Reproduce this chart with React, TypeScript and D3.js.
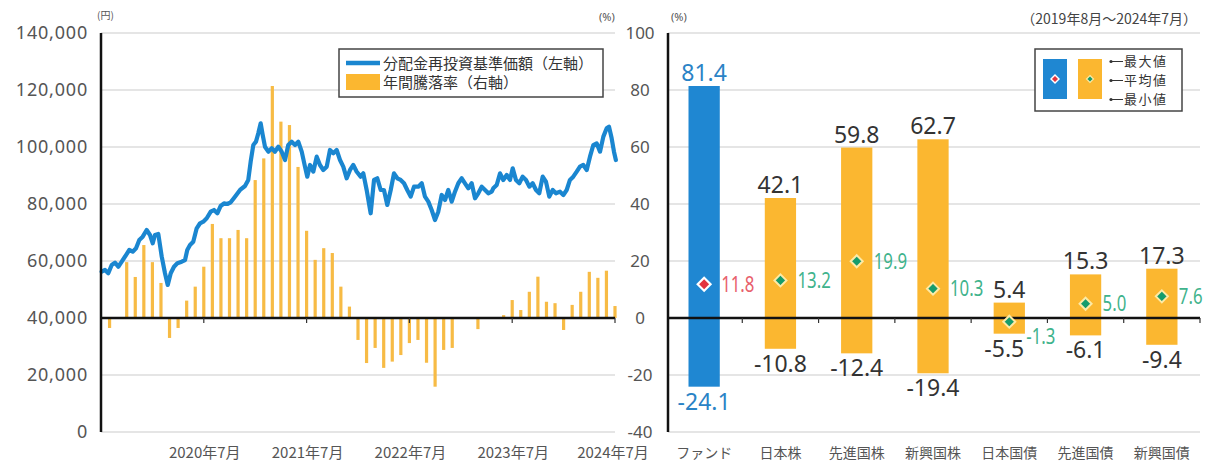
import React from "react";
import * as d3 from "d3";

// ---------- Left chart data ----------
// months elapsed since end of July 2019, NAV (円)
const navSeries: [number, number][] = [
  [0.08, 56250], [0.47, 56850], [0.85, 55700], [1.25, 58600], [1.63, 59400], [2.02, 58000],
  [2.42, 59760], [2.92, 62100], [3.3, 63860], [3.7, 63270], [4.09, 64440], [4.47, 67370],
  [4.87, 68540], [5.33, 70880], [5.72, 69130], [6.04, 66200], [6.3, 69130], [6.69, 69480],
  [7.09, 61520], [7.47, 55700], [7.79, 51600], [8.14, 55700], [8.52, 58000], [8.91, 59200],
  [9.42, 59760], [9.81, 60350], [10.07, 63860], [10.39, 65620], [10.77, 66780], [11.17, 71470],
  [11.56, 73240], [11.94, 73800], [12.34, 74990], [12.81, 77300], [13.19, 77900], [13.58, 76740],
  [13.97, 79300], [14.36, 80250], [14.74, 80000], [15.14, 80600], [15.64, 82580], [16.23, 84920],
  [16.81, 86320], [17.19, 88430], [17.47, 94850], [17.78, 100700], [18.09, 101870], [18.36, 104800],
  [18.64, 108320], [18.88, 104200], [19.14, 100100], [19.53, 98360], [19.93, 99540], [20.31, 98360],
  [20.7, 100100], [21.09, 98360], [21.48, 95440], [21.86, 100700], [22.26, 101870], [22.65, 100700],
  [23.03, 101870], [23.43, 98360], [23.81, 93100], [24.08, 89590], [24.4, 93690], [24.78, 91340],
  [25.18, 96610], [25.56, 93690], [25.95, 91940], [26.35, 93100], [26.73, 98950], [27.12, 97780],
  [27.51, 98950], [27.9, 95440], [28.28, 93100], [28.68, 89020], [29.07, 91940], [29.45, 93690],
  [29.85, 91340], [30.31, 89590], [30.62, 90760], [31.01, 84920], [31.48, 76740], [31.87, 88430],
  [32.25, 89020], [32.65, 84920], [33.03, 84920], [33.42, 79660], [33.82, 84920], [34.2, 90760],
  [34.59, 89020], [34.98, 88430], [35.37, 87270], [35.75, 84920], [36.15, 82580], [36.54, 86080],
  [37.04, 86080], [37.44, 87270], [37.82, 82580], [38.21, 80830], [38.6, 77900], [38.99, 74390],
  [39.37, 77310], [39.77, 83170], [40.16, 81410], [40.54, 84920], [40.94, 80830], [41.32, 84330],
  [41.71, 87270], [42.11, 89020], [42.49, 87270], [42.88, 85500], [43.27, 87270], [43.66, 82000],
  [44.04, 83760], [44.44, 86080], [44.83, 84920], [45.21, 83760], [45.61, 84330], [45.79, 85500],
  [46.19, 86670], [46.58, 90760], [46.96, 88430], [47.36, 90180], [47.74, 88430], [48.06, 92520],
  [48.44, 88430], [48.83, 87270], [49.22, 89590], [49.61, 88430], [50.0, 86080], [50.39, 87270],
  [50.78, 84920], [51.16, 83760], [51.56, 89590], [51.94, 87850], [52.33, 82580], [52.73, 84920],
  [53.11, 83760], [53.58, 84330], [53.97, 83170], [54.36, 84920], [54.74, 88430], [55.13, 89590],
  [55.53, 91340], [55.91, 93100], [56.3, 93690], [56.7, 91940], [57.08, 96610], [57.47, 100700],
  [57.86, 101290], [58.25, 98360], [58.64, 103630], [59.03, 106560], [59.3, 107140], [59.61, 103050],
  [59.88, 98360], [60.1, 95440],
];

// monthly annual return (%), 2019-08 .. 2024-07
const annualReturn: number[] = [
  -3.5, 0, 19.6, 14.4, 25.6, 19.6, 12.3, -7.0, -3.5, 6.1, 11.0, 18.0,
  33.0, 28.0, 28.0, 30.9, 28.0, 48.4, 56.0, 81.4, 68.9, 67.7, 53.0, 30.6,
  20.4, 24.5, 22.8, 11.0, 4.0, -7.7, -15.8, -10.5, -17.5, -15.3, -13.0, -8.8,
  -7.7, -15.7, -24.1, -11.2, -10.5, 0, 0, -3.9, 0, 0, 1.0, 6.3,
  2.8, 9.2, 14.5, 5.7, 5.2, -4.2, 4.6, 9.2, 16.2, 14.1, 16.6, 4.2,
];

const leftTicks = [0, 20000, 40000, 60000, 80000, 100000, 120000, 140000];
const pctTicks = [-40, -20, 0, 20, 40, 60, 80, 100];
const xTickMonths = [12, 24, 36, 48, 60];
const xTickLabels = ["2020年7月", "2021年7月", "2022年7月", "2023年7月", "2024年7月"];

// ---------- Right chart data ----------
const categories = ["ファンド", "日本株", "先進国株", "新興国株", "日本国債", "先進国債", "新興国債"];
const maxVals = [81.4, 42.1, 59.8, 62.7, 5.4, 15.3, 17.3];
const avgVals = [11.8, 13.2, 19.9, 10.3, -1.3, 5.0, 7.6];
const minVals = [-24.1, -10.8, -12.4, -19.4, -5.5, -6.1, -9.4];
const legendItems = ["最大値", "平均値", "最小値"];

const BLUE = "#1f87d2";
const ORANGE = "#fbb730";
const BAR_LEFT = "#f7bb45";
const GRID = "#dcdcdc";
const TXT = "#555";
const NUM = "Noto Sans, sans-serif";
const JP = "'Noto Sans CJK JP', sans-serif";

function fmt(v: number) {
  return v.toFixed(1);
}

function Diamond({ cx, cy, r, fill, stroke, sw }: any) {
  const p = `M${cx},${cy - r}L${cx + r},${cy}L${cx},${cy + r}L${cx - r},${cy}Z`;
  return <path d={p} fill={fill} stroke={stroke} strokeWidth={sw} strokeLinejoin="miter" />;
}

export default function App() {
  const W = 1206, H = 464;
  const top = 33, bottom = 432;
  const yL = d3.scaleLinear().domain([0, 140000]).range([bottom, top]);
  const yP = d3.scaleLinear().domain([-40, 100]).range([bottom, top]);
  const xM = d3.scaleLinear().domain([0, 60]).range([101, 615]);
  const xC = d3.scaleBand<string>().domain(categories).range([666, 1200]);
  const bw = xC.bandwidth();
  const barW = bw * 0.41;

  const line = d3.line<[number, number]>()
    .x((d) => xM(d[0]))
    .y((d) => yL(d[1]))
    .curve(d3.curveLinear);

  const zeroY = yP(0);
  const fmtK = d3.format(",");

  return (
    <div style={{ position: "absolute", left: 0, top: 0 }}>
      <svg width={W} height={H} style={{ display: "block", background: "#fff" }}>
        {/* ---------- LEFT CHART ---------- */}
        {leftTicks.map((t) => (
          <line key={"lg" + t} x1={xM(0)} x2={xM(60)} y1={yL(t)} y2={yL(t)} stroke={GRID} strokeWidth={1.5} />
        ))}
        {leftTicks.map((t) => (
          <text key={"lt" + t} x={88} y={yL(t)} dy="0.36em" textAnchor="end" fontFamily={NUM} fontSize={18}
            letterSpacing={0.8} fill={TXT}>{fmtK(t)}</text>
        ))}
        <text x={97} y={19} fontFamily={JP} fontSize={10} fill={TXT}>(円)</text>
        <text x={599} y={21} fontFamily={NUM} fontSize={11} fill={TXT}>(%)</text>

        {/* bars */}
        {annualReturn.map((v, i) => (
          <rect key={"b" + i} x={xM(i + 1) - 1.6} width={3.2}
            y={Math.min(yP(v), zeroY)} height={Math.abs(yP(v) - zeroY)} fill={BAR_LEFT} />
        ))}
        {/* zero line */}
        <line x1={xM(0)} x2={xM(60)} y1={zeroY} y2={zeroY} stroke="#111" strokeWidth={2.5} />
        {xTickMonths.map((m) => (
          <line key={"xt" + m} x1={xM(m)} x2={xM(m)} y1={zeroY} y2={zeroY + 5} stroke="#333" strokeWidth={1.2} />
        ))}
        {/* NAV line */}
        <path d={line(navSeries) || ""} fill="none" stroke="#1a86d0" strokeWidth={4.2} strokeLinejoin="round" strokeLinecap="round" />
        {/* y axis */}
        <line x1={xM(0)} x2={xM(0)} y1={top} y2={bottom} stroke="#111" strokeWidth={2.5} />
        {xTickMonths.map((m, i) => (
          <text key={"xl" + m} x={xM(m) + (i === 4 ? -2 : 1)} y={458} textAnchor="middle" fontFamily={JP}
            fontSize={15} fill={TXT}>{xTickLabels[i]}</text>
        ))}

        {/* left legend */}
        <rect x={339} y={49} width={264} height={48} fill="#fff" stroke="#444" strokeWidth={1.5} />
        <line x1={346} x2={380} y1={63} y2={63} stroke="#1a86d0" strokeWidth={4.5} />
        <rect x={346} y={74} width={34} height={16} fill={ORANGE} />
        <text x={383} y={68.5} fontFamily={JP} fontSize={15} fill="#333">分配金再投資基準価額（左軸）</text>
        <text x={383} y={87.5} fontFamily={JP} fontSize={15} fill="#333">年間騰落率（右軸）</text>

        {/* shared % tick labels */}
        {pctTicks.map((t) => (
          <text key={"pt" + t} x={640} y={yP(t)} dy="0.36em" textAnchor="middle" fontFamily={NUM} fontSize={17}
            fill={TXT}>{t}</text>
        ))}

        {/* ---------- RIGHT CHART ---------- */}
        {pctTicks.filter((t) => t !== 0).map((t) => (
          <line key={"rg" + t} x1={668} x2={1200} y1={yP(t)} y2={yP(t)} stroke={GRID} strokeWidth={1.5} />
        ))}
        <text x={671} y={21} fontFamily={NUM} fontSize={11} fill={TXT}>(%)</text>
        <text x={1197} y={24} textAnchor="end" fontFamily={JP} fontSize={14} fill="#444">（2019年8月～2024年7月）</text>

        {categories.map((c, i) => {
          const cx = (xC(c) as number) + bw / 2;
          return (
            <rect key={"rb" + c} x={cx - barW / 2} width={barW} y={yP(maxVals[i])}
              height={yP(minVals[i]) - yP(maxVals[i])} fill={i === 0 ? BLUE : ORANGE} />
          );
        })}
        <line x1={668} x2={1200} y1={zeroY} y2={zeroY} stroke="#111" strokeWidth={2.5} />
        {categories.map((c) => (
          <line key={"rt" + c} x1={(xC(c) as number) + bw} x2={(xC(c) as number) + bw} y1={zeroY} y2={zeroY + 5}
            stroke="#333" strokeWidth={1.2} />
        ))}
        <line x1={668} x2={668} y1={top} y2={bottom} stroke="#111" strokeWidth={2.5} />

        {categories.map((c, i) => {
          const cx = (xC(c) as number) + bw / 2;
          const isFund = i === 0;
          const ay = yP(avgVals[i]);
          const avgDy = avgVals[i] < 0 ? 15 : 0;
          return (
            <g key={"lab" + c}>
              <text x={cx} y={yP(maxVals[i]) - 5} textAnchor="middle" fontFamily={NUM} fontSize={23}
                fill={isFund ? "#2a83c6" : "#333"}>{fmt(maxVals[i])}</text>
              <text x={cx + (avgVals[i] < 0 ? -5 : 0)} y={yP(minVals[i]) + 23} textAnchor="middle" fontFamily={NUM} fontSize={23}
                fill={isFund ? "#2a83c6" : "#333"}>{fmt(minVals[i])}</text>
              {isFund ? (
                <>
                  <Diamond cx={cx} cy={ay} r={8} fill="#fff" stroke="none" sw={0} />
                  <Diamond cx={cx} cy={ay} r={5} fill="#e3343f" stroke="none" sw={0} />
                </>
              ) : (
                <Diamond cx={cx} cy={ay} r={6} fill="#169c6c" stroke="#fdeaa6" sw={2} />
              )}
              <g transform={`translate(${cx + 17},${ay + avgDy}) scale(0.8,1)`}>
                <text x={0} y={0} dy="0.36em" fontFamily={NUM} fontSize={21}
                  fill={isFund ? "#e8606b" : "#3fb38c"}>{fmt(avgVals[i])}</text>
              </g>
              <text x={cx} y={458} textAnchor="middle" fontFamily={JP} fontSize={14} fill={TXT}>{c}</text>
            </g>
          );
        })}

        {/* right legend */}
        <rect x={1035} y={49} width={147} height={62} fill="#fff" stroke="#444" strokeWidth={1.5} />
        <rect x={1043} y={59} width={24} height={40} fill={BLUE} />
        <rect x={1078} y={59} width={24} height={40} fill={ORANGE} />
        <Diamond cx={1055} cy={79} r={5} fill="#fff" stroke="none" sw={0} />
        <Diamond cx={1055} cy={79} r={3} fill="#e3343f" stroke="none" sw={0} />
        <Diamond cx={1090} cy={79} r={3.5} fill="#169c6c" stroke="#fdeaa6" sw={1.2} />
        {legendItems.map((t, i) => {
          const yy = 61.5 + i * 19;
          return (
            <g key={t}>
              <circle cx={1111} cy={yy} r={1.6} fill="#333" />
              <line x1={1111} x2={1123} y1={yy} y2={yy} stroke="#333" strokeWidth={1} />
              <text x={1124} y={yy} dy="0.36em" fontFamily={JP} fontSize={13} letterSpacing={1.5} fill="#333">{t}</text>
            </g>
          );
        })}
      </svg>
    </div>
  );
}
